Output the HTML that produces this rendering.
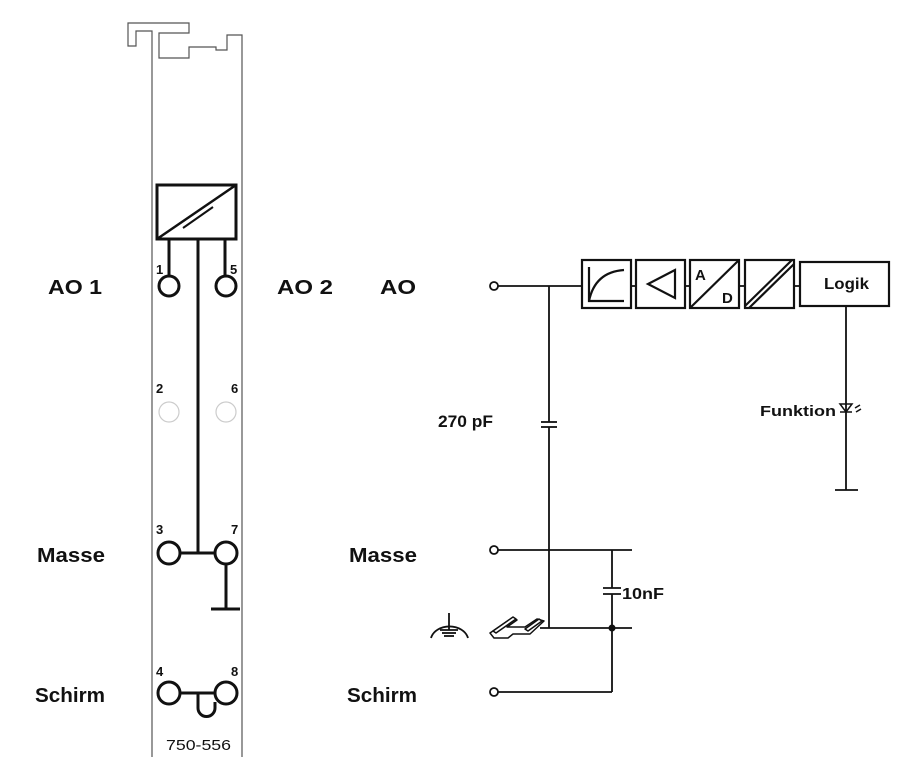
<!DOCTYPE html>
<html><head><meta charset="utf-8"><style>
html,body{margin:0;padding:0;background:#fff;}
svg{display:block;}
text{font-family:"Liberation Sans",sans-serif;font-weight:bold;fill:#111;}
</style></head><body>
<svg width="905" height="757" viewBox="0 0 905 757" xmlns="http://www.w3.org/2000/svg">
<g fill="none" stroke="#555" stroke-width="1.2">
<path d="M152,757 V31 H136 V46 H128 V23 H189 V33 H159 V58 H189 V47 H216 V50 H227 V35 H242 V757"/>
</g>
<g fill="none" stroke="#111" stroke-width="3">
<rect x="157" y="185" width="79" height="54"/>
<line x1="157" y1="239" x2="236" y2="185" stroke-width="2.5"/>
<line x1="183" y1="228" x2="213" y2="207" stroke-width="2"/>
<line x1="169" y1="239" x2="169" y2="276"/>
<line x1="225" y1="239" x2="225" y2="276"/>
<line x1="198" y1="239" x2="198" y2="553"/>
<circle cx="169" cy="286" r="10"/>
<circle cx="226" cy="286" r="10"/>
<circle cx="169" cy="553" r="11"/>
<circle cx="226" cy="553" r="11"/>
<line x1="180" y1="553" x2="215" y2="553"/>
<line x1="226" y1="564" x2="226" y2="609"/>
<line x1="211" y1="609" x2="240" y2="609"/>
<circle cx="169" cy="693" r="11"/>
<circle cx="226" cy="693" r="11"/>
<line x1="180" y1="693" x2="215" y2="693"/>
<path d="M198,693 V708 A8,8 0 0 0 215,708 V702"/>
</g>
<g fill="none" stroke="#ccc" stroke-width="1.2">
<circle cx="169" cy="412" r="10"/>
<circle cx="226" cy="412" r="10"/>
</g>
<text x="156" y="274" font-size="13">1</text>
<text x="230" y="274" font-size="13">5</text>
<text x="156" y="393" font-size="13">2</text>
<text x="231" y="393" font-size="13">6</text>
<text x="156" y="534" font-size="13">3</text>
<text x="231" y="534" font-size="13">7</text>
<text x="156" y="676" font-size="13">4</text>
<text x="231" y="676" font-size="13">8</text>
<text x="166" y="750" font-size="15" textLength="65" lengthAdjust="spacingAndGlyphs" style="font-weight:normal">750-556</text>

<text x="48" y="294" font-size="20" textLength="54" lengthAdjust="spacingAndGlyphs">AO 1</text>
<text x="277" y="294" font-size="20" textLength="56" lengthAdjust="spacingAndGlyphs">AO 2</text>
<text x="380" y="294" font-size="20" textLength="36" lengthAdjust="spacingAndGlyphs">AO</text>
<text x="37" y="562" font-size="20" textLength="68" lengthAdjust="spacingAndGlyphs">Masse</text>
<text x="349" y="562" font-size="20" textLength="68" lengthAdjust="spacingAndGlyphs">Masse</text>
<text x="35" y="702" font-size="20" textLength="70" lengthAdjust="spacingAndGlyphs">Schirm</text>
<text x="347" y="702" font-size="20" textLength="70" lengthAdjust="spacingAndGlyphs">Schirm</text>
<text x="438" y="427" font-size="17" textLength="55" lengthAdjust="spacingAndGlyphs">270 pF</text>
<text x="622" y="599" font-size="16" textLength="42" lengthAdjust="spacingAndGlyphs">10nF</text>
<text x="760" y="416" font-size="15" textLength="76" lengthAdjust="spacingAndGlyphs">Funktion</text>
<text x="824" y="289" font-size="16" textLength="45" lengthAdjust="spacingAndGlyphs">Logik</text>

<g fill="none" stroke="#111" stroke-width="1.8">
<circle cx="494" cy="286" r="4"/>
<circle cx="494" cy="550" r="4"/>
<circle cx="494" cy="692" r="4"/>
<line x1="498" y1="286" x2="582" y2="286"/>
<line x1="549" y1="286" x2="549" y2="422"/>
<line x1="549" y1="427" x2="549" y2="628"/>
<line x1="541" y1="422" x2="557" y2="422"/>
<line x1="541" y1="427" x2="557" y2="427"/>
<line x1="498" y1="550" x2="632" y2="550"/>
<line x1="612" y1="550" x2="612" y2="588"/>
<line x1="612" y1="594" x2="612" y2="692"/>
<line x1="603" y1="588" x2="621" y2="588"/>
<line x1="603" y1="594" x2="621" y2="594"/>
<line x1="540" y1="628" x2="632" y2="628"/>
<line x1="498" y1="692" x2="612" y2="692"/>
<line x1="631" y1="286" x2="636" y2="286"/>
<line x1="685" y1="286" x2="690" y2="286"/>
<line x1="739" y1="286" x2="745" y2="286"/>
<line x1="794" y1="286" x2="800" y2="286"/>
<line x1="846" y1="306" x2="846" y2="490"/>
<line x1="835" y1="490" x2="858" y2="490"/>
</g>
<circle cx="612" cy="628" r="3.5" fill="#111"/>
<g fill="none" stroke="#111" stroke-width="2.2">
<rect x="582" y="260" width="49" height="48"/>
<path d="M589,267 V301 H624"/>
<path d="M589,301 Q595,272 624,270"/>
<rect x="636" y="260" width="49" height="48"/>
<path d="M675,270 L648,284 L675,298 Z"/>
<rect x="690" y="260" width="49" height="48"/>
<line x1="690" y1="308" x2="739" y2="260"/>
<rect x="745" y="260" width="49" height="48"/>
<line x1="745" y1="306" x2="792" y2="260"/>
<line x1="749" y1="308" x2="794" y2="264"/>
<rect x="800" y="262" width="89" height="44"/>
</g>
<text x="695" y="280" font-size="15">A</text>
<text x="722" y="303" font-size="15">D</text>
<g fill="none" stroke="#111" stroke-width="1.5">
<path d="M840,404 H852 L846,412 Z"/>
<line x1="840" y1="412" x2="852" y2="412"/>
<line x1="855" y1="408" x2="860" y2="405"/>
<line x1="856" y1="412" x2="861" y2="409"/>
</g>
<g fill="none" stroke="#111" stroke-width="1.8">
<path d="M431,638 A19,15 0 0 1 468,638"/>
<line x1="449" y1="613" x2="449" y2="630"/>
<line x1="440" y1="630" x2="458" y2="630"/>
<line x1="442" y1="633" x2="456" y2="633"/>
<line x1="444" y1="636" x2="454" y2="636"/>
</g>
<g fill="#fff" stroke="#111" stroke-width="1.5" stroke-linejoin="round">
<path d="M490,633 L512,618 L517,620 L507,627 L525,627 L537,619 L544,621 L530,634 L513,634 L508,638 L494,638 Z"/>
<path d="M493,631 L513,617 L516,619 L496,633 Z"/>
<path d="M525,629 L539,619 L542,621 L528,631 Z"/>
</g>
</svg>
</body></html>
